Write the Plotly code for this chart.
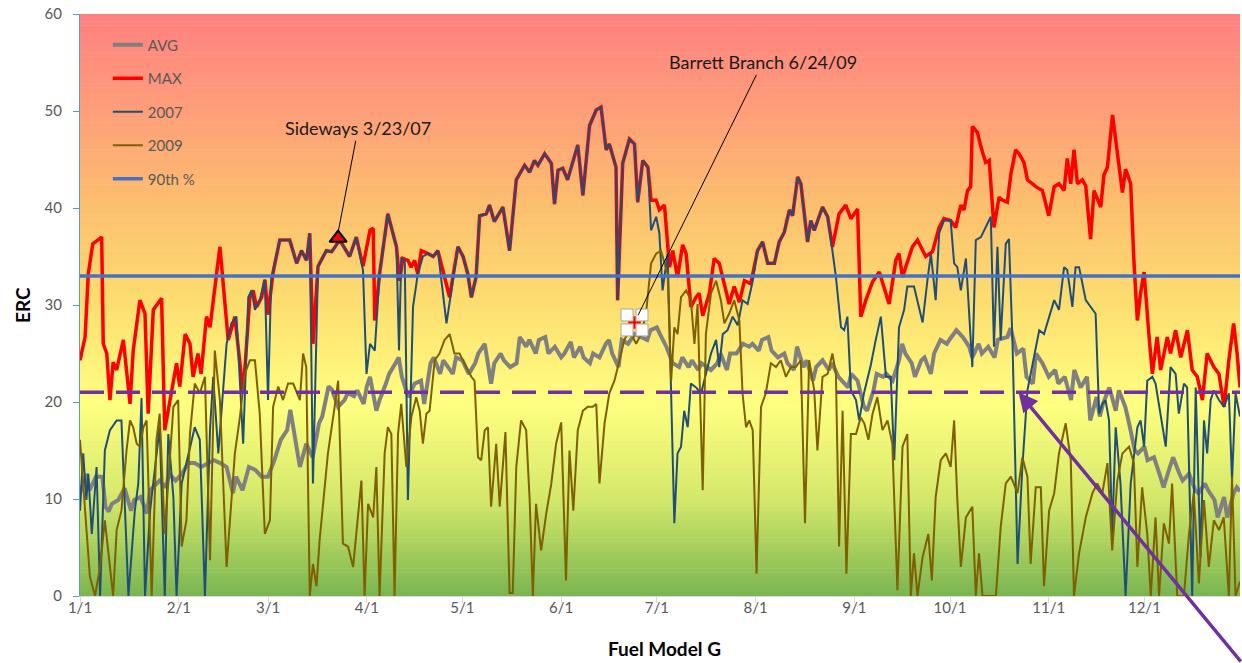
import pandas as pd
import plotly.graph_objects as go

# ---------------- data ----------------
# day index: 0 = Jan 1
avg_days = [0, 2, 3, 5, 7, 8, 9, 10, 12, 14, 16, 17, 19, 21, 22, 25, 27, 28, 30, 32, 34, 36, 38, 40, 42, 44, 46, 48,
            49, 51, 53, 55, 57, 59, 61, 63, 65, 66, 67, 69, 71, 73, 75, 76, 78, 79, 81, 83, 84, 86, 87, 89, 90, 91,
            93, 94, 96, 97, 99, 100, 101, 103, 105, 107, 108, 110, 111, 113, 114, 117, 118, 120, 122, 124, 125, 127,
            129, 130, 132, 133, 135, 137, 138, 140, 141, 143, 144, 146, 147, 149, 151, 152, 154, 155, 157, 158, 160,
            161, 163, 165, 166, 167, 169, 170, 172, 174, 176, 178, 179, 181, 182, 184, 186, 188, 189, 191, 192, 194,
            195, 198, 200, 201, 203, 204, 206, 208, 210, 211, 213, 214, 216, 217, 219, 221, 222, 224, 225, 227, 228,
            230, 231, 233, 235, 236, 238, 239, 241, 242, 244, 246, 247, 249, 250, 252, 253, 255, 257, 258, 259, 261,
            262, 264, 265, 267, 268, 270, 272, 273, 275, 277, 279, 280, 282, 283, 285, 287, 288, 291, 292, 294, 296,
            297, 299, 300, 302, 304, 306, 307, 309, 311, 312, 314, 316, 317, 319, 320, 321, 323, 325, 326, 328, 329,
            331, 332, 334, 335, 337, 339, 340, 342, 343, 345, 346, 348, 350, 351, 353, 354, 356, 357, 359, 360, 362,
            363, 364]
avg_vals = [10.6, 12.6, 10.9, 12.3, 12.3, 9.2, 8.7, 9.5, 9.9, 11.1, 8.8, 9.9, 10.2, 8.5, 10.9, 11.9, 11.2, 12.6, 11.9,
            12.6, 13.7, 13.7, 13.3, 13.7, 14.0, 13.7, 13.3, 10.6, 12.3, 10.9, 13.3, 13.0, 12.3, 12.3, 14.0, 16.1, 17.1,
            19.2, 17.4, 13.3, 15.7, 14.3, 17.8, 18.5, 21.6, 21.3, 19.5, 20.2, 20.9, 20.6, 21.2, 19.8, 21.6, 22.6, 19.1,
            20.2, 21.9, 22.9, 24.0, 24.6, 22.6, 20.5, 21.9, 22.2, 19.8, 24.0, 24.6, 22.9, 24.3, 22.9, 24.6, 24.3, 22.9,
            24.0, 25.0, 26.0, 21.9, 24.0, 25.0, 24.3, 23.6, 24.0, 26.7, 25.7, 26.4, 25.0, 26.4, 26.7, 25.0, 25.7, 24.6,
            25.0, 26.2, 24.6, 25.7, 24.6, 24.0, 25.0, 24.6, 26.0, 26.4, 25.0, 23.6, 26.4, 26.0, 27.0, 26.7, 26.4, 27.4,
            27.7, 27.0, 25.7, 24.0, 23.6, 24.6, 23.6, 24.3, 23.3, 24.0, 23.3, 24.0, 25.0, 23.3, 25.0, 25.0, 26.0, 25.7,
            26.0, 25.3, 26.4, 26.7, 25.3, 24.6, 25.0, 24.0, 23.3, 25.7, 23.6, 24.3, 22.2, 23.6, 24.3, 23.3, 24.0, 22.6,
            22.2, 21.5, 22.9, 22.2, 19.5, 19.1, 21.2, 22.9, 22.6, 22.9, 22.2, 24.3, 26.0, 25.0, 24.0, 22.6, 24.3, 24.6,
            22.9, 25.0, 26.4, 26.0, 26.5, 27.4, 26.7, 25.7, 24.6, 26.0, 25.0, 25.7, 24.6, 26.4, 26.7, 27.6, 25.0, 25.5,
            22.6, 21.9, 25.0, 24.0, 22.6, 23.3, 21.9, 22.6, 20.2, 23.3, 21.5, 22.6, 18.1, 20.5, 18.5, 19.8, 21.5, 19.1,
            21.2, 19.5, 18.1, 15.0, 14.7, 15.4, 14.0, 14.3, 12.3, 11.2, 13.3, 14.3, 12.6, 11.9, 12.6, 10.9, 10.6, 11.6,
            10.9, 9.9, 8.1, 10.2, 8.1, 10.6, 11.2, 10.8]

max_days = [0, 1.6, 2.6, 4.0, 6.8, 7.3, 8.4, 9.4, 10.4, 11.5, 13.6, 15.7, 16.7, 18.8, 20.4, 21.4, 23.0, 25.6, 26.6,
            28.2, 30.3, 31.3, 33.0, 34.5, 35.5, 37.0, 38.0, 39.7, 40.8, 43.9, 46.5, 48.6, 51.2, 53.3, 54.3, 55.4, 57.0,
            58.0, 59.0, 60.6, 62.7, 65.8, 68.0, 69.5, 71.1, 72.1, 73.1, 74.7, 77.3, 79.0, 81.5, 84.6, 86.7, 88.8, 91.0,
            92.0, 92.5, 94.0, 96.6, 99.3, 100.3, 101.3, 102.9, 103.9, 105.0, 106.0, 107.1, 109.2, 110.8, 112.3, 115.0,
            116.0, 117.0, 118.6, 120.2, 121.7, 122.8, 124.3, 125.4, 127.5, 128.5, 130.0, 132.7, 134.8, 136.9, 139.5,
            141.1, 142.6, 143.7, 145.8, 147.9, 148.9, 150.0, 151.5, 153.0, 154.6, 156.2, 157.8, 159.9, 162.0, 163.5,
            165.1, 166.1, 168.2, 168.7, 170.3, 172.4, 174.0, 175.0, 176.6, 178.2, 179.2, 180.8, 181.8, 183.4, 185.0,
            186.0, 187.5, 189.1, 190.2, 191.7, 193.3, 194.3, 195.4, 197.5, 199.0, 200.6, 203.7, 205.3, 206.9, 208.5,
            210.5, 212.6, 214.2, 215.8, 217.9, 219.4, 221.0, 222.6, 223.6, 225.2, 226.2, 228.3, 229.3, 230.4, 233.0,
            234.6, 236.1, 238.2, 240.3, 241.9, 244.0, 245.0, 246.6, 248.7, 250.8, 252.3, 253.9, 256.0, 257.0, 258.1,
            261.2, 262.8, 265.4, 267.5, 269.6, 271.1, 273.2, 274.8, 276.4, 277.4, 278.5, 279.5, 280.0, 281.6, 282.7,
            284.2, 285.3, 286.8, 288.4, 289.5, 291.0, 292.1, 293.6, 294.7, 296.2, 297.3, 299.9, 302.0, 304.0, 305.7,
            307.2, 308.8, 309.8, 310.9, 311.9, 313.0, 314.5, 315.6, 317.1, 318.2, 320.3, 321.3, 322.4, 324.0, 325.5,
            327.1, 328.1, 329.7, 330.7, 331.8, 332.8, 333.9, 335.4, 336.5, 338.0, 339.1, 341.2, 342.2, 343.8, 345.4,
            347.5, 349.0, 350.6, 352.2, 353.7, 355.8, 357.4, 359.0, 360.5, 362.0, 363.1, 364.0]
max_vals = [24.3, 26.7, 33.2, 36.3, 37.0, 26.0, 25.0, 20.2, 24.1, 23.3, 26.4, 19.8, 25.3, 30.5, 29.1, 18.8, 29.5, 30.7,
            17.1, 20.2, 24.0, 21.6, 27.0, 26.0, 22.6, 25.0, 22.9, 28.8, 27.7, 36.0, 26.4, 28.8, 20.9, 30.8, 31.5, 29.8,
            30.8, 32.6, 29.0, 33.4, 36.7, 36.7, 34.3, 35.6, 34.6, 37.4, 26.0, 34.0, 35.6, 35.5, 36.7, 35.0, 37.0, 34.0,
            37.7, 37.9, 28.4, 33.2, 39.4, 36.0, 32.5, 34.8, 34.6, 33.9, 34.6, 33.2, 35.6, 35.3, 35.0, 35.6, 31.9, 30.8,
            32.9, 36.0, 35.0, 33.2, 30.8, 32.9, 39.2, 39.4, 40.3, 38.6, 40.1, 35.6, 42.9, 44.4, 43.7, 44.9, 44.4, 45.6,
            44.6, 40.4, 43.9, 44.1, 42.9, 44.6, 46.5, 41.3, 48.5, 50.1, 50.4, 46.0, 46.6, 44.2, 30.5, 44.6, 47.1, 46.6,
            40.6, 44.9, 44.2, 40.8, 40.8, 39.8, 40.3, 33.9, 35.6, 32.9, 36.2, 35.3, 29.8, 30.8, 31.2, 28.9, 31.2, 34.8,
            34.3, 30.1, 31.9, 30.3, 32.5, 32.2, 35.6, 36.5, 34.3, 34.3, 36.5, 37.5, 39.8, 39.2, 43.2, 42.5, 36.5, 38.7,
            37.7, 40.1, 39.1, 36.0, 39.4, 40.3, 38.9, 39.9, 28.8, 30.5, 32.4, 33.4, 31.9, 30.1, 34.6, 35.3, 32.9, 36.0,
            36.7, 35.0, 35.5, 38.0, 38.9, 38.7, 38.0, 40.3, 39.8, 41.8, 42.2, 48.4, 47.8, 46.3, 44.7, 44.9, 38.0, 41.1,
            40.8, 40.6, 43.5, 46.0, 45.6, 44.7, 42.9, 42.2, 41.8, 39.2, 42.2, 42.5, 41.8, 45.1, 42.5, 46.0, 42.5, 42.9,
            42.3, 36.8, 41.8, 40.1, 43.4, 44.2, 49.6, 46.0, 41.6, 44.0, 42.5, 34.6, 28.4, 31.2, 33.4, 27.0, 22.9, 26.7,
            23.3, 26.7, 25.0, 27.4, 24.6, 27.4, 23.3, 22.6, 20.2, 25.0, 23.6, 22.9, 19.5, 24.3, 28.1, 25.0, 21.5]

y2007_days = [0, 1.0, 2.0, 2.6, 3.7, 5.2, 6.3, 7.8, 9.4, 11.5, 13.0, 14.1, 15.2, 17.2, 18.3, 19.3, 20.4, 22.0, 25.0,
              26.6, 27.7, 29.3, 30.3, 31.9, 33.4, 36.0, 37.6, 39.2, 40.8, 41.8, 43.4, 45.0, 46.0, 47.5, 49.1, 51.2,
              52.8, 53.8, 54.9, 56.4, 58.0, 59.0, 60.0, 62.7, 65.8, 68.0, 69.5, 71.1, 72.1, 73.1, 74.7, 77.3, 79.0,
              81.5, 84.6, 86.7, 88.8, 89.9, 91.0, 92.5, 94.0, 96.6, 99.3, 100.1, 100.8, 101.9, 102.9, 104.5, 106.0,
              107.6, 109.2, 110.8, 112.3, 115.0, 117.0, 118.6, 120.2, 121.7, 122.8, 124.3, 125.4, 127.5, 128.5, 130.0,
              132.7, 134.8, 136.9, 139.5, 141.1, 142.6, 143.7, 145.8, 147.9, 148.9, 150.0, 151.5, 153.0, 154.6, 156.2,
              157.8, 159.9, 162.0, 163.5, 165.1, 166.1, 168.2, 168.7, 170.3, 172.4, 174.0, 175.0, 176.6, 178.2, 179.2,
              180.8, 181.8, 182.8, 184.4, 186.5, 187.5, 188.6, 189.6, 190.7, 191.7, 193.3, 194.9, 196.4, 198.0, 199.6,
              200.6, 201.7, 203.2, 204.8, 206.4, 207.9, 209.5, 211.1, 212.6, 214.2, 215.8, 217.9, 219.4, 221.0, 222.6,
              223.6, 225.2, 226.2, 228.3, 229.3, 230.4, 233.0, 234.6, 236.1, 237.2, 238.8, 239.8, 240.8, 241.9, 243.5,
              244.5, 246.0, 248.2, 249.7, 251.3, 252.9, 254.4, 255.5, 257.0, 258.6, 259.6, 261.7, 262.8, 264.4, 265.9,
              267.0, 268.5, 269.6, 271.1, 273.2, 274.3, 275.3, 276.4, 278.0, 280.0, 281.1, 282.7, 284.2, 285.8, 286.8,
              287.9, 288.9, 290.5, 291.5, 292.6, 294.2, 295.7, 297.3, 298.9, 301.0, 302.5, 304.1, 305.7, 307.2, 308.8,
              309.8, 311.4, 312.4, 313.5, 315.6, 317.7, 318.7, 319.8, 320.8, 321.8, 322.9, 323.9, 325.0, 326.5, 328.1,
              329.7, 330.7, 331.8, 332.8, 333.9, 334.9, 336.5, 337.5, 339.1, 340.7, 342.2, 343.8, 344.8, 346.4, 347.4,
              349.0, 350.1, 351.6, 352.7, 353.7, 354.8, 355.8, 357.4, 359.0, 360.5, 361.5, 362.6, 364.0]
y2007_vals = [8.8, 14.7, 9.9, 12.6, 6.4, 13.3, 0, 15.0, 17.1, 18.1, 18.1, 9.9, 0, 8.8, 11.6, 20.4, 0, 8.8, 17.4, 0,
              16.7, 10.2, 0, 11.6, 13.7, 17.4, 16.1, 0, 17.1, 22.6, 14.7, 21.6, 26.0, 28.1, 28.8, 15.7, 30.8, 31.5,
              29.5, 30.5, 32.6, 20.2, 32.6, 36.7, 36.7, 34.3, 35.6, 34.6, 37.4, 11.6, 34.0, 35.6, 35.5, 36.7, 35.0,
              37.0, 33.6, 22.9, 26.0, 25.3, 33.2, 39.4, 36.0, 25.3, 34.8, 34.6, 9.9, 29.8, 33.2, 35.0, 35.3, 35.0,
              35.6, 28.1, 32.5, 36.0, 35.0, 33.2, 30.8, 32.9, 39.2, 39.4, 40.3, 38.6, 40.1, 35.6, 42.9, 44.4, 43.7,
              44.9, 44.4, 45.6, 44.6, 40.4, 43.9, 44.1, 42.9, 44.6, 46.5, 41.3, 48.5, 50.1, 50.4, 46.0, 46.6, 44.2,
              30.5, 44.6, 47.1, 46.6, 40.6, 44.9, 44.2, 37.7, 39.1, 37.4, 31.5, 35.3, 7.5, 14.7, 15.4, 19.1, 17.4,
              21.9, 21.5, 20.9, 22.9, 25.0, 26.4, 23.6, 27.0, 27.4, 28.8, 27.9, 30.5, 30.1, 32.5, 35.6, 36.5, 34.3,
              34.3, 36.5, 37.5, 39.8, 39.2, 43.2, 42.5, 36.5, 38.7, 37.7, 40.1, 39.1, 35.6, 32.9, 27.7, 27.4, 28.8,
              21.2, 20.2, 18.1, 20.9, 23.9, 26.4, 28.8, 22.6, 22.6, 14.0, 27.7, 29.5, 31.9, 31.9, 30.5, 28.2, 32.5,
              35.3, 30.5, 37.4, 38.7, 38.7, 34.3, 33.9, 31.5, 34.8, 23.6, 36.7, 37.0, 38.0, 39.1, 25.7, 36.0, 26.4,
              36.3, 36.8, 26.4, 3.3, 13.3, 21.2, 24.0, 27.4, 27.0, 28.8, 30.5, 29.5, 33.9, 33.6, 29.8, 33.9, 33.9,
              30.5, 29.5, 29.1, 18.8, 19.8, 20.2, 18.1, 6.4, 17.4, 11.6, 0, 11.6, 14.7, 17.4, 18.1, 15.4, 22.2, 22.6,
              21.9, 18.4, 15.4, 23.6, 22.9, 18.8, 21.9, 21.5, 0, 21.5, 4.0, 18.1, 14.7, 20.2, 21.2, 20.2, 19.5, 20.9,
              11.9, 20.9, 18.5]

y2009_days = [0, 1.0, 2.1, 3.1, 4.7, 6.3, 7.8, 9.4, 10.4, 11.5, 13.0, 14.6, 15.7, 16.7, 17.8, 18.8, 19.9, 20.9, 22.5,
              24.0, 25.0, 26.6, 27.7, 29.3, 30.8, 31.9, 33.4, 34.5, 36.0, 37.6, 39.2, 40.8, 42.3, 43.9, 46.0, 47.0,
              48.6, 50.2, 51.7, 53.3, 54.9, 56.4, 58.0, 59.6, 60.6, 62.2, 63.7, 65.3, 66.9, 69.0, 70.0, 71.0, 72.1,
              73.1, 74.2, 75.2, 77.8, 79.9, 81.0, 82.5, 84.1, 85.7, 87.3, 88.3, 89.3, 90.4, 92.0, 93.0, 94.0, 95.6,
              96.6, 97.7, 98.7, 99.8, 100.8, 102.4, 104.0, 105.5, 106.6, 107.6, 108.7, 109.7, 111.3, 112.8, 114.4,
              116.0, 117.5, 119.1, 121.2, 122.8, 123.8, 124.9, 125.9, 127.0, 128.0, 129.0, 130.6, 131.7, 133.5, 134.8,
              135.8, 136.9, 138.4, 140.0, 141.1, 142.1, 143.1, 144.7, 146.3, 147.9, 149.4, 151.0, 152.5, 153.6, 154.8,
              156.2, 157.8, 159.3, 160.9, 162.0, 163.0, 164.6, 166.1, 167.7, 169.3, 170.8, 172.4, 174.5, 176.1, 177.6,
              179.2, 180.8, 182.3, 184.4, 185.5, 186.5, 187.5, 188.6, 190.2, 191.7, 192.8, 193.8, 195.4, 196.4, 198.0,
              199.6, 201.1, 202.2, 203.7, 205.3, 206.9, 207.9, 209.0, 210.0, 211.1, 212.3, 213.7, 215.2, 216.8, 218.4,
              219.9, 221.5, 223.1, 224.6, 226.2, 227.5, 228.8, 230.4, 231.4, 233.0, 234.6, 236.1, 237.2, 238.2, 239.3,
              240.5, 241.9, 243.5, 245.0, 246.1, 247.4, 248.7, 250.2, 251.8, 253.4, 254.9, 256.5, 258.1, 259.6, 260.7,
              261.7, 262.8, 264.4, 266.2, 267.3, 268.5, 270.1, 271.7, 273.2, 274.3, 275.3, 276.4, 278.0, 280.0, 281.1,
              282.1, 283.2, 287.4, 288.9, 290.5, 292.1, 294.2, 295.7, 297.3, 298.3, 299.9, 301.5, 302.5, 304.1, 305.7,
              307.2, 309.3, 310.9, 311.9, 313.5, 315.6, 317.7, 319.2, 320.8, 322.4, 323.9, 325.5, 327.1, 329.2, 330.7,
              331.8, 333.3, 334.9, 336.0, 337.5, 338.6, 340.1, 341.7, 342.7, 344.3, 346.4, 348.0, 349.5, 351.1, 352.7,
              354.2, 355.8, 357.4, 358.9, 360.5, 361.5, 362.6, 364.0]
y2009_vals = [16.1, 11.2, 5.8, 2.0, 0, 3.0, 7.8, 3.0, 0, 6.8, 8.8, 15.0, 18.1, 17.4, 15.7, 15.4, 17.4, 18.1, 0, 16.1,
              18.8, 6.4, 11.6, 19.5, 20.2, 5.1, 7.8, 16.7, 21.9, 20.9, 22.6, 3.7, 25.3, 20.2, 3.0, 7.8, 14.7, 18.5,
              22.9, 24.3, 24.3, 18.8, 6.4, 7.8, 19.5, 21.6, 20.2, 21.9, 21.9, 20.2, 25.0, 23.6, 0, 3.3, 1.0, 5.8, 14.7,
              19.5, 22.2, 5.4, 5.1, 3.0, 8.8, 11.9, 0, 9.5, 8.1, 13.3, 0, 14.7, 17.4, 16.7, 0, 16.7, 19.8, 13.3, 18.5,
              20.5, 19.1, 15.7, 18.8, 19.1, 24.3, 25.0, 26.4, 27.0, 25.0, 25.0, 23.6, 22.6, 22.2, 14.3, 14.0, 17.1,
              17.4, 9.2, 15.7, 9.2, 16.9, 0.3, 0.3, 13.3, 18.1, 17.1, 9.9, 0, 9.5, 4.7, 8.5, 11.6, 15.7, 17.9, 1.6,
              15.0, 8.8, 17.1, 19.1, 19.5, 19.5, 19.8, 11.6, 17.8, 20.9, 22.2, 24.3, 26.4, 27.4, 26.0, 27.0, 29.1,
              34.3, 35.3, 35.6, 33.2, 22.2, 27.7, 27.0, 30.8, 31.5, 30.5, 26.0, 30.1, 10.9, 27.0, 31.2, 32.5, 30.5,
              28.1, 29.1, 30.5, 28.4, 20.9, 17.4, 18.1, 17.1, 2.3, 19.5, 20.9, 24.0, 23.6, 24.3, 22.6, 23.6, 23.6,
              24.3, 7.5, 24.3, 21.2, 15.0, 22.6, 22.9, 25.0, 22.9, 5.1, 19.1, 2.3, 16.7, 16.7, 18.4, 17.8, 16.1, 18.8,
              20.5, 17.1, 18.1, 15.7, 0.6, 15.4, 16.7, 0, 4.4, 0, 4.0, 6.4, 1.6, 10.2, 14.0, 14.7, 13.3, 18.1, 9.9,
              3.0, 8.1, 9.2, 0, 4.4, 0, 0, 7.1, 11.6, 12.3, 10.6, 14.3, 12.3, 3.3, 11.2, 11.2, 1.0, 8.8, 10.6, 14.7,
              17.8, 14.0, 0, 4.4, 8.1, 10.6, 11.6, 10.6, 13.7, 4.7, 11.9, 14.7, 15.4, 13.7, 3.0, 11.2, 6.4, 0, 8.1, 0,
              7.5, 5.4, 11.6, 0, 0, 6.4, 10.6, 1.3, 9.9, 3.0, 7.8, 6.8, 8.1, 0, 12.3, 0, 1.5]

pct90_val = 33.0
dashed_val = 21.0
line_days = [0, 364]

sideways_day = 81      # 3/23
sideways_val = 36.9
barrett_day = 174      # 6/24
barrett_val = 28.2
arrow_day = 294.5
arrow_val = 21.0

month_ticks = ["1/1", "2/1", "3/1", "4/1", "5/1", "6/1", "7/1", "8/1", "9/1", "10/1", "11/1", "12/1"]

# ---------------- helpers ----------------
base = pd.Timestamp("2009-01-01")


def to_dates(days):
    return [base + pd.Timedelta(days=float(d)) for d in days]


tick_vals = [pd.Timestamp(f"2009-{m:02d}-01") for m in range(1, 13)]

FONT = "Lato, 'Open Sans', Arial, sans-serif"
GRAY_TXT = "#595959"

fig = go.Figure()

fig.add_trace(go.Scatter(x=to_dates(avg_days), y=avg_vals, name="AVG", mode="lines",
                         line=dict(color="#808080", width=4), legendgroup="a"))
fig.add_trace(go.Scatter(x=to_dates(max_days), y=max_vals, name="MAX", mode="lines",
                         line=dict(color="#FF0000", width=3.5), legendgroup="b"))
fig.add_trace(go.Scatter(x=to_dates(y2007_days), y=y2007_vals, name="2007", mode="lines",
                         line=dict(color="#1F4E79", width=2), legendgroup="c"))
fig.add_trace(go.Scatter(x=to_dates(y2009_days), y=y2009_vals, name="2009", mode="lines",
                         line=dict(color="#7F6000", width=2), legendgroup="d"))
fig.add_trace(go.Scatter(x=to_dates(line_days), y=[pct90_val] * len(line_days), name="90th %", mode="lines",
                         line=dict(color="#4472C4", width=3.5), legendgroup="e"))
fig.add_trace(go.Scatter(x=to_dates(line_days), y=[dashed_val] * len(line_days), mode="lines",
                         line=dict(color="#7030A0", width=3.5, dash="24px,12px"), showlegend=False,
                         hoverinfo="skip"))
fig.add_trace(go.Scatter(x=to_dates([sideways_day]), y=[sideways_val], mode="markers", showlegend=False,
                         marker=dict(symbol="triangle-up", size=15, color="#FF0000",
                                     line=dict(color="#000000", width=2))))

# background gradient (style only)
stops = [(0, (122, 181, 82)), (10, (212, 232, 106)), (20, (255, 255, 128)), (30, (253, 222, 112)),
         (40, (252, 192, 110)), (50, (254, 158, 121)), (60, (255, 128, 128))]


def col_at(v):
    for (v0, c0), (v1, c1) in zip(stops[:-1], stops[1:]):
        if v0 <= v <= v1:
            t = (v - v0) / (v1 - v0)
            return "rgb(%d,%d,%d)" % tuple(round(a + (b - a) * t) for a, b in zip(c0, c1))
    return "rgb(255,128,128)"


shapes = []
N = 150
for i in range(N):
    y0 = 60 * i / N
    y1 = 60 * (i + 1) / N
    shapes.append(dict(type="rect", xref="paper", yref="y", x0=0, x1=1, y0=y0, y1=y1 + 0.05,
                       fillcolor=col_at((y0 + y1) / 2), line=dict(width=0), layer="below"))

# selection handles around the Barrett Branch point
bx = base + pd.Timedelta(days=barrett_day)
for sx in (-1, 1):
    for sy in (-1, 1):
        a0, a1 = sorted([sx * 1.5, sx * 13.5])
        b0, b1 = sorted([sy * 1.5, sy * 13.5])
        shapes.append(dict(type="rect", xref="x", yref="y", xsizemode="pixel", ysizemode="pixel",
                           xanchor=bx, yanchor=barrett_val, x0=a0, x1=a1, y0=b0, y1=b1,
                           fillcolor="white", line=dict(color="#A6A6A6", width=1), layer="above"))

fig.add_trace(go.Scatter(x=[bx], y=[barrett_val], mode="markers", showlegend=False,
                         marker=dict(symbol="cross-thin", size=9, line=dict(color="#FF0000", width=2.5))))

annotations = [
    dict(x=base + pd.Timedelta(days=sideways_day), y=sideways_val + 0.6, xref="x", yref="y",
         text="Sideways 3/23/07", showarrow=True, arrowhead=0, arrowwidth=1, arrowcolor="#000000",
         ax=20, ay=-104, font=dict(family=FONT, size=18, color="#1a1a1a")),
    dict(x=bx, y=barrett_val, xref="x", yref="y",
         text="Barrett Branch 6/24/09", showarrow=True, arrowhead=0, arrowwidth=1, arrowcolor="#000000",
         ax=128, ay=-260, standoff=8, font=dict(family=FONT, size=18, color="#1a1a1a")),
    dict(x=base + pd.Timedelta(days=arrow_day), y=arrow_val, xref="x", yref="y", text="",
         showarrow=True, arrowhead=2, arrowsize=1.1, arrowwidth=3.5, arrowcolor="#7030A0",
         ax=242, ay=272),
    dict(x=0, y=0.5, xref="paper", yref="paper", xshift=-58, xanchor="center", yanchor="middle",
         text="<b>ERC</b>", textangle=-90,
         showarrow=False, font=dict(family=FONT, size=19, color="#000000")),
    dict(x=0.504, y=0, xref="paper", yref="paper", yshift=-52, xanchor="center", yanchor="middle",
         text="<b>Fuel Model G</b>",
         showarrow=False, font=dict(family=FONT, size=19, color="#000000")),
]

fig.update_layout(
    width=1242, height=663,
    margin=dict(l=80, r=2, t=14, b=67),
    paper_bgcolor="white", plot_bgcolor="rgba(0,0,0,0)",
    shapes=shapes, annotations=annotations,
    showlegend=True,
    legend=dict(x=0.024, y=0.975, xanchor="left", yanchor="top", bgcolor="rgba(0,0,0,0)",
                traceorder="grouped", tracegroupgap=11,
                font=dict(family=FONT, size=15, color=GRAY_TXT)),
    font=dict(family=FONT),
    xaxis=dict(type="date", range=[base, base + pd.Timedelta(days=364)],
               tickvals=tick_vals, ticktext=month_ticks,
               showgrid=False, zeroline=False, showline=True, linecolor="#D9D9D9", linewidth=1,
               ticks="outside", ticklen=6, tickcolor="#D9D9D9", ticklabelstandoff=-8,
               tickfont=dict(family=FONT, size=15, color=GRAY_TXT)),
    yaxis=dict(range=[0, 60], dtick=10, showgrid=False, zeroline=False, showline=True,
               linecolor="#5B9BD5", linewidth=1, ticks="outside", ticklen=6, tickcolor="#5B9BD5",
               ticklabelstandoff=8,
               tickfont=dict(family=FONT, size=15, color=GRAY_TXT)),
)

fig.write_html("out.html", config={"displayModeBar": False},
               post_script="document.body.style.margin='0px';")
